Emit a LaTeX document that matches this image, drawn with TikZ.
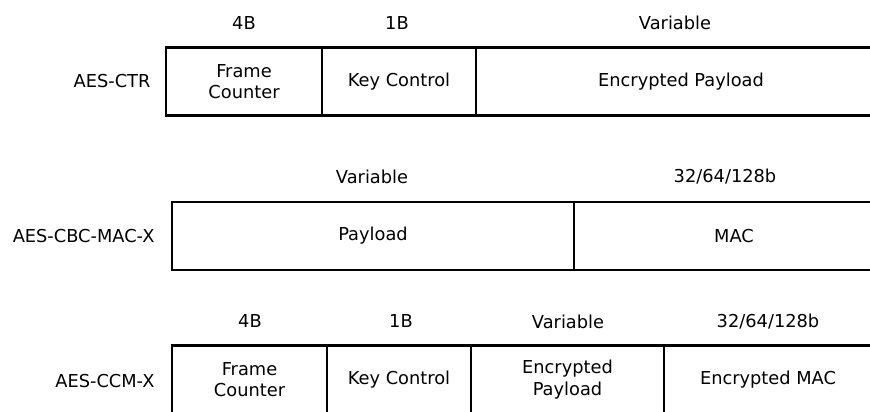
\documentclass[tikz,border=0pt]{standalone}
\usepackage{fontspec}
\setmainfont{DejaVu Sans}
\begin{document}
\begin{tikzpicture}[x=1pt, y=-1pt,
        every node/.style={font=\fontsize{17.8}{21.5}\selectfont},
        field/.style={draw, line width=2.4pt, minimum height=68pt, inner sep=0pt, outer sep=0pt, align=center},
        size/.style={anchor=center},
        mode/.style={anchor=east}]
        \useasboundingbox (0,0) rectangle (870,412);
        \clip (0,0) rectangle (870,412);

        % AES-CTR
        \node[mode] (ctr) at (154,81.5) {AES-CTR};
        \node[field, minimum width=156pt, anchor=north west] (ctrfc) at (166,47.5) {Frame\\Counter};
        \node[field, minimum width=154pt, anchor=west] (ctrkc) at (ctrfc.east) {Key Control};
        \node[field, minimum width=410pt, anchor=west] (ctrep) at (ctrkc.east) {Encrypted Payload};
        \node[size] (ctrs1) at (244,23) {4B};
        \node[size] (ctrs2) at (397,23) {1B};
        \node[size] (ctrs3) at (675,23) {Variable};

        % AES-CBC-MAC-X
        \node[mode] (cbc) at (158,236) {AES-CBC-MAC-X};
        \node[field, minimum width=402pt, anchor=north west] (cbcpl) at (172,202) {Payload};
        \node[field, minimum width=320pt, anchor=west] (cbcmac) at (cbcpl.east) {MAC};
        \node[size] (cbcs1) at (372,176.5) {Variable};
        \node[size] (cbcs2) at (725,176.5) {32/64/128b};

        % AES-CCM-X
        \node[mode] (ccm) at (158,381) {AES-CCM-X};
        \node[field, minimum width=155pt, anchor=north west] (ccmfc) at (172,345.5) {Frame\\Counter};
        \node[field, minimum width=144pt, anchor=west] (ccmkc) at (ccmfc.east) {Key Control};
        \node[field, minimum width=193pt, anchor=west] (ccmep) at (ccmkc.east) {Encrypted\\Payload};
        \node[field, minimum width=220pt, anchor=west] (ccmmac) at (ccmep.east) {};
        \node (ccmmact) at (768,379.5) {Encrypted MAC};
        \node[size] (ccms1) at (250,321.5) {4B};
        \node[size] (ccms2) at (401,321.5) {1B};
        \node[size] (ccms3) at (568,321.5) {Variable};
        \node[size] (ccms4) at (768,321.5) {32/64/128b};

    \end{tikzpicture}
\end{document}
